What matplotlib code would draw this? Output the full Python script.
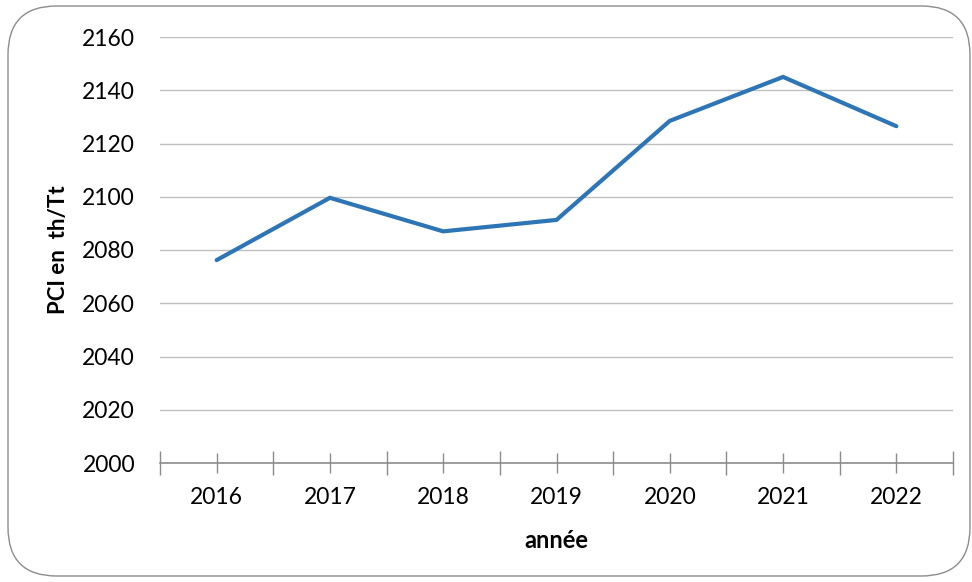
import matplotlib
matplotlib.use("Agg")
import matplotlib.pyplot as plt
from matplotlib.patches import FancyBboxPatch
from matplotlib.ticker import FixedLocator

years = ["2016", "2017", "2018", "2019", "2020", "2021", "2022"]
pci = [2076.2, 2099.6, 2087.0, 2091.3, 2128.5, 2145.0, 2126.5]
yticks = [2000, 2020, 2040, 2060, 2080, 2100, 2120, 2140, 2160]

plt.rcParams['font.family'] = ['Lato', 'DejaVu Sans']

fig = plt.figure(figsize=(9.72, 5.82), dpi=100)
ax = fig.add_axes([160/972, 1-463/582, (953-160)/972, (463-37)/582])

x = list(range(len(years)))
ax.plot(x, pci, color='#2E75B6', lw=3.0, solid_capstyle='round', solid_joinstyle='miter', zorder=3)

ax.set_xlim(-0.5, len(years)-0.5)
ax.set_ylim(2000, 2160)
ax.set_yticks(yticks)
ax.set_yticklabels([str(v) for v in yticks], fontsize=16.5)
ax.yaxis.grid(True, color='#BFBFBF', lw=1.0)
ax.set_axisbelow(True)
ax.tick_params(axis='y', length=0, pad=18)

ax.xaxis.set_major_locator(FixedLocator([i - 0.5 for i in range(len(years)+1)]))
ax.xaxis.set_minor_locator(FixedLocator(x))
ax.set_xticklabels([])
ax.set_xticks(x, minor=True)
ax.set_xticklabels(years, minor=True, fontsize=16.5)
ax.tick_params(axis='x', which='major', direction='inout', length=17, color='#8C8C8C', width=1)
ax.tick_params(axis='x', which='minor', direction='inout', length=14, color='#8C8C8C', width=1, pad=10)

for s in ['top', 'right', 'left']:
    ax.spines[s].set_visible(False)
ax.spines['bottom'].set_color('#8C8C8C')
ax.spines['bottom'].set_linewidth(1.2)

fig.text(556/972, 1-540/582, 'année', fontsize=17, fontweight='bold', ha='center', va='center')
fig.text(58/972, 1-250/582, 'PCI en  th/Tt', rotation=90, fontsize=16, fontweight='bold',
         ha='center', va='center')

border = FancyBboxPatch((8/972, 6/582), 962/972, 570/582,
                        boxstyle='round,pad=0,rounding_size=0.05',
                        transform=fig.transFigure, fill=False, edgecolor='#8C8C8C', lw=1.0,
                        mutation_aspect=972/582)
fig.patches.append(border)

fig.savefig('out.png', dpi=100)
